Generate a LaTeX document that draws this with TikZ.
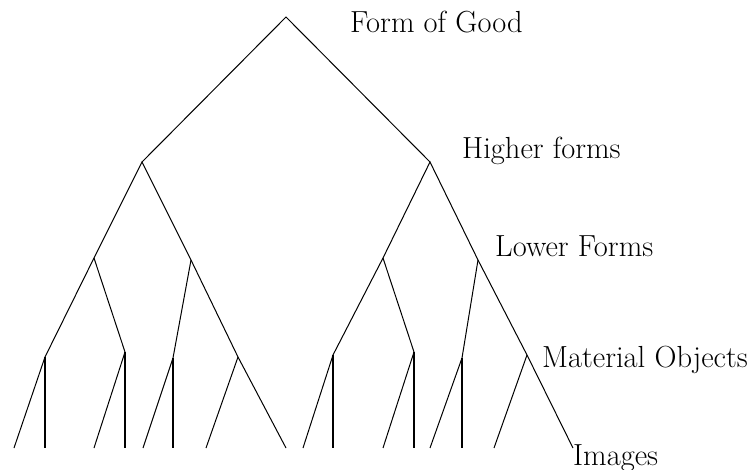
\documentclass[tikz,border=0pt]{standalone}
\usepackage{tikz}
\usetikzlibrary{positioning}

\begin{document}
\begin{tikzpicture}[
  x=1pt, y=-1pt,
  branch/.style={line width=1pt},
  stem/.style={line width=1.4pt},
  levelname/.style={anchor=base west,inner sep=0pt,
                    font=\fontsize{30.5}{36}\selectfont}
]
\useasboundingbox (0,0) rectangle (747,470);

% tree points
\coordinate (good) at (286,17);
\coordinate (hiA) at (142,162);
\coordinate (hiB) at (430,162);

\coordinate (loA1) at (94,258);
\coordinate (loA2) at (191,260);
\coordinate (loB1) at (383,258);
\coordinate (loB2) at (478,260);

\coordinate (maA1) at (45,357);
\coordinate (maA2) at (125,352);
\coordinate (maA3) at (173,358);
\coordinate (maA4) at (238,357);
\coordinate (maB1) at (333,355);
\coordinate (maB2) at (414,352);
\coordinate (maB3) at (462,358);
\coordinate (maB4) at (527,355);

\coordinate (imA1) at (14,448);  \coordinate (imA2) at (45,448);
\coordinate (imA3) at (94,448);  \coordinate (imA4) at (125,448);
\coordinate (imA5) at (143,448); \coordinate (imA6) at (173,448);
\coordinate (imA7) at (206,448); \coordinate (imA8) at (286,448);
\coordinate (imB1) at (303,448); \coordinate (imB2) at (333,448);
\coordinate (imB3) at (383,448); \coordinate (imB4) at (414,448);
\coordinate (imB5) at (430,448); \coordinate (imB6) at (462,448);
\coordinate (imB7) at (494,448); \coordinate (imB8) at (573,448);

% level names
\node[levelname] (lgood) at (350,33) {Form of Good};
\node[levelname] (lhigh) at (462,159) {Higher forms};
\node[levelname] (llow) at (495,257) {Lower Forms};
\node[levelname] (lmat) at (542,367) {Material Objects};
\node[levelname] (limg) at (573,465) {Images};

% branches
\draw[branch] (hiA) -- (good) -- (hiB);

\draw[branch] (maA1) -- (loA1) -- (hiA) -- (loA2) -- (maA4) -- (imA8);
\draw[branch] (loA1) -- (maA2);
\draw[branch] (loA2) -- (maA3);
\draw[branch] (maB1) -- (loB1) -- (hiB) -- (loB2) -- (maB4) -- (imB8);
\draw[branch] (loB1) -- (maB2);
\draw[branch] (loB2) -- (maB3);

\draw[branch] (maA1) -- (imA1);
\draw[branch] (maA2) -- (imA3);
\draw[branch] (maA3) -- (imA5);
\draw[branch] (maA4) -- (imA7);
\draw[branch] (maB1) -- (imB1);
\draw[branch] (maB2) -- (imB3);
\draw[branch] (maB3) -- (imB5);
\draw[branch] (maB4) -- (imB7);

\draw[stem] (maA1) -- (imA2);
\draw[stem] (maA2) -- (imA4);
\draw[stem] (maA3) -- (imA6);
\draw[stem] (maB1) -- (imB2);
\draw[stem] (maB2) -- (imB4);
\draw[stem] (maB3) -- (imB6);
\end{tikzpicture}
\end{document}
